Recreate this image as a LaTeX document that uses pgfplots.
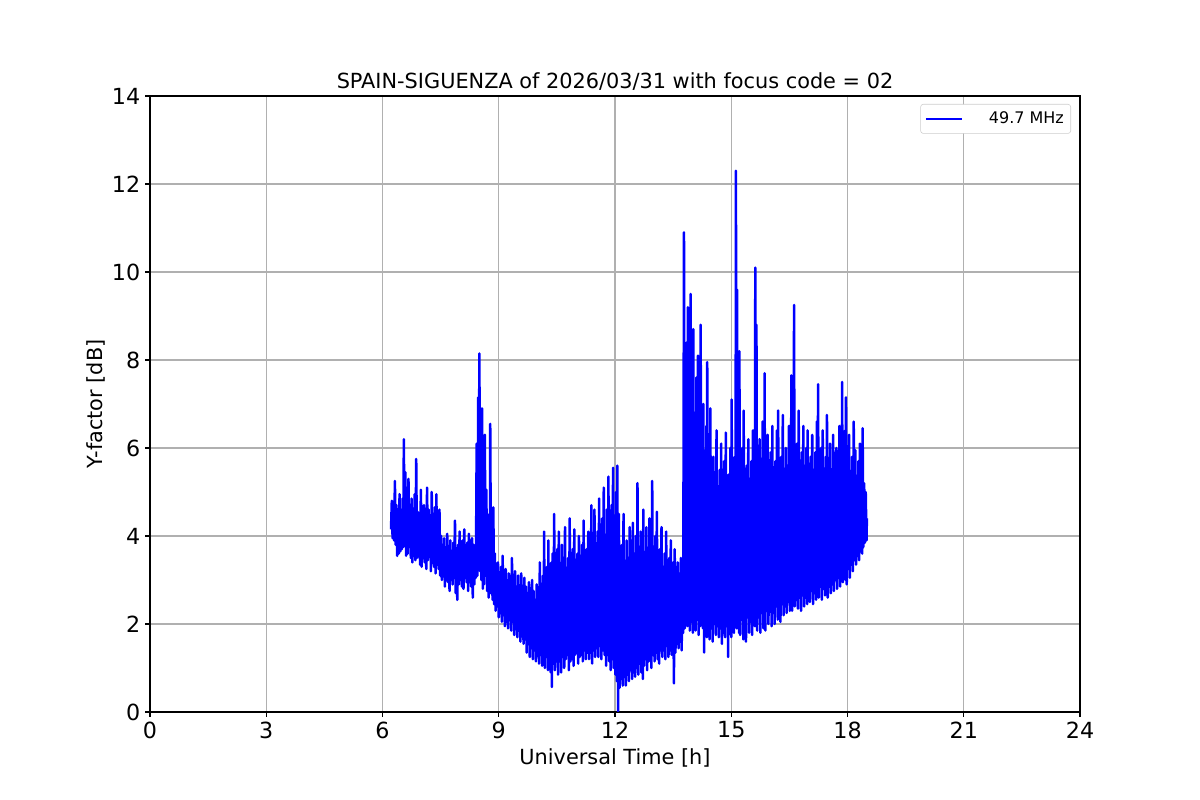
\documentclass[border=0pt]{standalone}
\usepackage{fontspec}
\setmainfont{DejaVu Sans}
\usepackage{pgfplots}
\usepackage{pgfplotstable}
\pgfplotsset{compat=1.18}

% 49.7 MHz Y-factor readings, Universal Time [h] vs dB
\pgfplotstableread[row sep=\\]{
t y \\
6.22 4.15 \\ 6.24 4.80 \\ 6.26 3.95 \\ 6.28 4.60 \\ 6.30 3.90 \\ 6.32 5.25 \\
6.34 3.80 \\ 6.36 4.70 \\ 6.38 3.55 \\ 6.40 4.50 \\ 6.42 3.60 \\ 6.44 4.95 \\
6.46 3.65 \\ 6.48 4.40 \\ 6.50 3.70 \\ 6.52 4.85 \\ 6.54 3.75 \\ 6.55 6.20 \\
6.57 3.80 \\ 6.59 5.45 \\ 6.61 3.55 \\ 6.63 4.70 \\ 6.65 3.60 \\ 6.67 5.30 \\
6.69 3.75 \\ 6.71 4.50 \\ 6.73 3.50 \\ 6.75 4.85 \\ 6.77 3.40 \\ 6.79 4.60 \\
6.81 3.55 \\ 6.83 4.95 \\ 6.85 3.45 \\ 6.87 5.75 \\ 6.89 3.50 \\ 6.91 4.55 \\
6.93 3.60 \\ 6.95 4.40 \\ 6.97 3.35 \\ 6.99 5.05 \\ 7.01 3.30 \\ 7.03 4.50 \\
7.05 3.50 \\ 7.07 4.70 \\ 7.09 3.40 \\ 7.11 4.35 \\ 7.13 3.25 \\ 7.15 5.10 \\
7.17 3.45 \\ 7.19 4.60 \\ 7.21 3.55 \\ 7.23 4.40 \\ 7.25 3.20 \\ 7.27 5.00 \\
7.29 3.40 \\ 7.31 4.50 \\ 7.33 3.30 \\ 7.35 4.65 \\ 7.37 3.15 \\ 7.39 4.95 \\
7.41 3.35 \\ 7.43 4.30 \\ 7.45 3.25 \\ 7.47 4.60 \\ 7.49 3.10 \\ 7.51 4.00 \\
7.53 3.00 \\ 7.55 3.80 \\ 7.57 3.10 \\ 7.59 3.95 \\ 7.61 2.85 \\ 7.63 3.70 \\
7.65 3.05 \\ 7.67 4.05 \\ 7.69 2.95 \\ 7.71 3.65 \\ 7.73 2.75 \\ 7.75 3.90 \\
7.77 3.00 \\ 7.79 3.60 \\ 7.81 2.90 \\ 7.83 3.85 \\ 7.85 3.05 \\ 7.87 4.35 \\
7.89 2.70 \\ 7.91 3.70 \\ 7.93 2.55 \\ 7.95 3.80 \\ 7.97 2.90 \\ 7.99 4.10 \\
8.01 3.00 \\ 8.03 3.65 \\ 8.05 2.85 \\ 8.07 3.90 \\ 8.09 2.80 \\ 8.11 4.15 \\
8.13 3.05 \\ 8.15 3.70 \\ 8.17 2.95 \\ 8.19 3.85 \\ 8.21 2.75 \\ 8.23 4.05 \\
8.25 2.95 \\ 8.27 3.75 \\ 8.29 2.85 \\ 8.31 3.95 \\ 8.33 2.60 \\ 8.35 3.80 \\
8.37 2.90 \\ 8.39 3.70 \\
8.41 3.05 \\ 8.43 6.10 \\ 8.45 3.10 \\ 8.47 7.15 \\ 8.48 3.40 \\ 8.50 8.15 \\
8.52 3.20 \\ 8.54 5.80 \\ 8.55 3.00 \\ 8.57 6.90 \\ 8.59 2.80 \\ 8.61 5.20 \\
8.62 2.90 \\ 8.64 6.30 \\ 8.66 3.10 \\ 8.68 5.05 \\ 8.70 2.75 \\ 8.72 4.20 \\
8.74 2.60 \\ 8.76 4.50 \\ 8.77 2.70 \\ 8.78 6.55 \\ 8.80 2.70 \\ 8.82 3.90 \\
8.84 2.55 \\ 8.86 4.65 \\ 8.88 2.45 \\ 8.90 3.60 \\
8.92 2.30 \\ 8.94 3.20 \\ 8.96 2.40 \\ 8.98 3.40 \\ 9.00 2.15 \\ 9.02 3.10 \\
9.04 2.35 \\ 9.06 3.30 \\ 9.08 2.05 \\ 9.10 3.55 \\ 9.12 2.20 \\ 9.14 3.05 \\
9.16 1.95 \\ 9.18 3.25 \\ 9.20 2.15 \\ 9.22 2.95 \\ 9.24 1.90 \\ 9.26 3.15 \\
9.28 2.10 \\ 9.30 2.90 \\ 9.32 1.85 \\ 9.34 3.50 \\ 9.36 2.05 \\ 9.38 3.00 \\
9.40 1.75 \\ 9.42 3.20 \\ 9.44 1.95 \\ 9.46 2.85 \\ 9.48 1.70 \\ 9.50 3.10 \\
9.52 1.85 \\ 9.54 2.80 \\ 9.56 1.60 \\ 9.58 3.15 \\ 9.60 1.80 \\ 9.62 2.75 \\
9.64 1.55 \\ 9.66 3.05 \\ 9.68 1.65 \\ 9.70 2.85 \\
9.72 1.35 \\ 9.74 2.70 \\ 9.76 1.55 \\ 9.78 2.95 \\ 9.80 1.25 \\ 9.82 2.60 \\
9.84 1.45 \\ 9.86 3.00 \\ 9.88 1.20 \\ 9.90 2.75 \\ 9.92 1.40 \\ 9.94 2.55 \\
9.96 1.15 \\ 9.98 2.90 \\ 10.00 1.35 \\ 10.02 2.70 \\ 10.04 1.10 \\ 10.06 3.40 \\
10.08 1.30 \\ 10.10 2.80 \\ 10.12 1.05 \\ 10.14 3.10 \\ 10.16 1.35 \\ 10.17 4.10 \\
10.19 1.00 \\ 10.21 3.00 \\ 10.23 1.25 \\ 10.25 3.30 \\ 10.27 0.95 \\ 10.28 3.90 \\
10.30 1.15 \\ 10.32 3.20 \\
10.34 0.90 \\ 10.36 3.40 \\ 10.37 0.57 \\ 10.39 3.60 \\ 10.41 1.10 \\ 10.43 4.50 \\
10.45 0.95 \\ 10.47 3.30 \\ 10.49 1.20 \\ 10.51 3.70 \\ 10.53 0.85 \\ 10.55 4.10 \\
10.57 1.15 \\ 10.59 3.20 \\ 10.61 0.90 \\ 10.63 3.80 \\ 10.65 1.25 \\ 10.67 3.40 \\
10.69 1.00 \\ 10.71 4.20 \\ 10.73 1.20 \\ 10.75 3.10 \\ 10.77 1.30 \\ 10.79 3.50 \\
10.81 0.95 \\ 10.83 4.40 \\ 10.85 1.15 \\ 10.87 3.30 \\ 10.89 1.20 \\ 10.91 3.70 \\
10.93 1.05 \\ 10.95 4.15 \\ 10.97 1.30 \\ 10.99 3.20 \\ 11.01 1.35 \\ 11.03 3.60 \\
11.05 1.10 \\ 11.07 4.00 \\ 11.09 1.25 \\ 11.11 3.30 \\ 11.13 1.30 \\ 11.15 3.80 \\
11.17 1.15 \\ 11.19 4.35 \\ 11.21 1.40 \\ 11.23 3.40 \\ 11.25 1.20 \\ 11.27 3.70 \\
11.29 1.35 \\ 11.31 4.10 \\ 11.33 1.20 \\ 11.35 3.50 \\ 11.37 1.35 \\ 11.39 4.70 \\
11.41 1.10 \\ 11.43 3.60 \\ 11.45 1.40 \\ 11.47 4.60 \\ 11.49 1.25 \\ 11.51 3.80 \\
11.53 1.45 \\ 11.55 4.10 \\ 11.57 1.25 \\ 11.59 4.85 \\ 11.61 1.50 \\ 11.63 3.90 \\
11.65 1.20 \\ 11.67 4.40 \\ 11.69 1.40 \\ 11.71 5.10 \\ 11.73 1.30 \\ 11.75 4.00 \\
11.77 1.05 \\ 11.79 4.60 \\ 11.81 1.30 \\ 11.83 5.35 \\ 11.85 1.15 \\ 11.87 4.20 \\
11.89 0.95 \\ 11.91 4.70 \\ 11.93 1.20 \\ 11.95 5.55 \\ 11.97 1.00 \\ 11.99 4.30 \\
12.01 0.85 \\ 12.03 5.00 \\ 12.05 0.70 \\ 12.06 5.60 \\ 12.08 0.02 \\
12.10 4.50 \\ 12.12 0.55 \\ 12.14 3.40 \\ 12.16 0.75 \\ 12.18 3.80 \\ 12.20 0.60 \\
12.22 4.50 \\ 12.24 0.80 \\ 12.26 3.20 \\ 12.28 0.60 \\ 12.30 3.90 \\ 12.32 0.85 \\
12.34 3.50 \\ 12.36 0.70 \\ 12.38 4.20 \\ 12.40 0.95 \\ 12.42 3.30 \\ 12.44 0.75 \\
12.46 4.30 \\ 12.48 0.90 \\ 12.50 3.60 \\ 12.52 0.80 \\ 12.54 4.00 \\ 12.56 1.00 \\
12.58 5.20 \\ 12.60 0.85 \\
12.62 3.70 \\ 12.64 1.10 \\ 12.66 4.10 \\ 12.68 0.90 \\ 12.70 3.40 \\ 12.72 0.75 \\
12.73 4.60 \\ 12.75 1.05 \\ 12.77 3.60 \\ 12.79 1.20 \\ 12.81 4.20 \\ 12.83 0.95 \\
12.85 3.50 \\ 12.87 1.15 \\ 12.89 4.40 \\ 12.91 1.25 \\ 12.93 3.30 \\ 12.94 1.00 \\
12.96 5.25 \\ 12.98 1.30 \\ 13.00 3.70 \\ 13.02 1.15 \\ 13.04 4.00 \\ 13.06 1.35 \\
13.08 4.55 \\ 13.10 1.20 \\ 13.12 3.40 \\ 13.14 1.10 \\ 13.16 3.70 \\ 13.18 1.45 \\
13.20 4.20 \\ 13.22 1.25 \\ 13.24 3.30 \\ 13.26 1.40 \\ 13.28 3.60 \\ 13.30 1.20 \\
13.32 4.10 \\ 13.34 1.50 \\ 13.36 3.20 \\ 13.38 1.25 \\ 13.40 3.50 \\ 13.42 1.40 \\
13.44 3.90 \\ 13.46 1.30 \\ 13.48 3.10 \\ 13.50 3.40 \\ 13.52 0.65 \\ 13.54 3.70 \\
13.56 1.35 \\ 13.58 3.10 \\ 13.60 1.55 \\ 13.62 3.40 \\ 13.64 1.45 \\ 13.66 3.00 \\
13.68 1.60 \\ 13.70 3.50 \\ 13.72 1.40 \\ 13.74 3.20 \\ 13.76 1.80 \\
13.78 10.90 \\ 13.80 1.90 \\ 13.81 7.50 \\ 13.83 2.00 \\ 13.85 8.40 \\ 13.87 1.95 \\
13.88 9.20 \\ 13.90 2.10 \\ 13.92 7.80 \\ 13.93 1.85 \\ 13.95 9.50 \\ 13.97 2.05 \\
13.99 7.20 \\ 14.01 1.80 \\ 14.02 8.70 \\ 14.04 2.00 \\ 14.06 6.80 \\ 14.08 1.85 \\
14.10 7.60 \\ 14.12 2.10 \\ 14.14 8.10 \\ 14.16 1.75 \\ 14.18 6.50 \\ 14.20 1.95 \\
14.21 8.80 \\ 14.23 2.00 \\ 14.25 6.20 \\ 14.27 1.90 \\ 14.28 7.00 \\ 14.30 1.35 \\
14.32 5.40 \\ 14.34 1.80 \\ 14.36 6.50 \\ 14.37 1.70 \\ 14.38 7.95 \\ 14.40 1.85 \\
14.42 5.20 \\ 14.44 1.65 \\ 14.46 6.90 \\ 14.48 1.90 \\ 14.50 5.00 \\ 14.52 1.60 \\
14.54 5.80 \\ 14.56 2.00 \\ 14.58 4.80 \\ 14.60 1.75 \\ 14.62 6.40 \\ 14.64 1.95 \\
14.66 5.10 \\ 14.68 1.70 \\ 14.70 5.50 \\ 14.72 1.90 \\ 14.74 6.10 \\ 14.76 1.55 \\
14.78 4.90 \\ 14.80 1.80 \\ 14.82 5.70 \\ 14.84 1.70 \\ 14.86 6.35 \\ 14.88 1.95 \\
14.90 5.00 \\ 14.92 1.25 \\ 14.94 5.40 \\ 14.96 1.85 \\ 14.98 6.00 \\ 15.00 1.70 \\
15.01 7.10 \\ 15.03 2.00 \\ 15.05 5.20 \\
15.07 1.80 \\ 15.09 5.80 \\ 15.11 2.10 \\ 15.12 12.30 \\ 15.14 1.90 \\ 15.15 9.60 \\
15.17 2.05 \\ 15.19 5.50 \\ 15.20 1.80 \\ 15.21 8.20 \\ 15.23 1.75 \\ 15.25 5.20 \\
15.27 2.10 \\ 15.29 6.00 \\ 15.31 1.65 \\ 15.32 6.85 \\ 15.34 2.00 \\ 15.36 5.10 \\
15.38 1.60 \\ 15.40 5.60 \\ 15.42 2.15 \\ 15.44 6.20 \\ 15.46 1.80 \\ 15.48 5.30 \\
15.50 2.05 \\ 15.52 5.70 \\ 15.54 1.75 \\ 15.56 6.40 \\ 15.58 2.20 \\ 15.60 5.40 \\
15.61 1.95 \\ 15.62 10.10 \\ 15.64 2.00 \\ 15.65 8.80 \\ 15.67 1.85 \\ 15.69 5.50 \\
15.71 2.15 \\ 15.73 6.20 \\ 15.75 1.80 \\ 15.77 5.20 \\ 15.79 2.25 \\ 15.81 6.60 \\
15.83 1.90 \\ 15.84 5.80 \\ 15.85 2.10 \\ 15.86 7.70 \\ 15.88 1.85 \\ 15.90 5.30 \\
15.92 2.30 \\ 15.94 6.30 \\ 15.96 2.00 \\ 15.98 5.50 \\ 16.00 2.35 \\ 16.02 5.90 \\
16.04 1.95 \\ 16.06 6.50 \\ 16.08 2.25 \\ 16.10 5.20 \\ 16.12 2.00 \\ 16.14 5.70 \\
16.16 2.40 \\ 16.18 6.40 \\ 16.20 2.10 \\ 16.21 6.85 \\ 16.23 2.30 \\ 16.25 5.40 \\
16.27 2.05 \\ 16.29 5.80 \\ 16.31 2.45 \\ 16.33 6.75 \\ 16.35 2.20 \\ 16.37 5.50 \\
16.39 2.40 \\ 16.41 6.00 \\ 16.43 2.25 \\ 16.45 5.60 \\
16.47 2.50 \\ 16.49 6.50 \\ 16.51 2.30 \\ 16.53 5.90 \\ 16.54 2.45 \\ 16.55 7.65 \\
16.57 2.30 \\ 16.59 5.60 \\ 16.61 2.50 \\ 16.62 9.25 \\ 16.64 2.40 \\ 16.66 5.80 \\
16.68 2.55 \\ 16.70 6.10 \\ 16.72 2.35 \\ 16.74 6.85 \\ 16.76 2.60 \\ 16.78 5.50 \\
16.80 2.30 \\ 16.82 5.90 \\ 16.84 2.65 \\ 16.86 6.50 \\ 16.88 2.40 \\ 16.90 5.40 \\
16.92 2.60 \\ 16.94 6.00 \\ 16.96 2.45 \\ 16.97 6.40 \\ 16.99 2.70 \\ 17.01 5.60 \\
17.03 2.50 \\ 17.05 5.80 \\ 17.07 2.75 \\ 17.09 6.30 \\ 17.11 2.45 \\ 17.13 5.50 \\
17.15 2.70 \\ 17.17 5.90 \\ 17.19 2.55 \\ 17.21 6.60 \\ 17.23 2.80 \\ 17.24 7.45 \\
17.26 2.60 \\ 17.28 5.70 \\ 17.30 2.85 \\ 17.32 6.00 \\ 17.34 2.55 \\ 17.36 6.40 \\
17.38 2.80 \\ 17.40 5.50 \\ 17.42 2.65 \\ 17.44 5.80 \\ 17.46 2.90 \\ 17.47 6.75 \\
17.49 2.60 \\ 17.51 5.60 \\ 17.53 2.85 \\ 17.55 6.10 \\ 17.57 2.70 \\ 17.59 5.40 \\
17.61 2.90 \\ 17.63 6.30 \\ 17.65 2.75 \\ 17.67 5.60 \\ 17.69 3.00 \\ 17.71 6.00 \\
17.73 2.80 \\ 17.75 5.50 \\ 17.77 3.05 \\ 17.79 6.50 \\ 17.81 2.85 \\ 17.83 5.80 \\
17.85 3.10 \\ 17.86 7.50 \\ 17.88 2.95 \\ 17.90 5.70 \\ 17.92 3.15 \\ 17.94 6.40 \\
17.95 3.00 \\ 17.96 7.15 \\ 17.98 2.90 \\ 18.00 5.60 \\ 18.02 3.25 \\ 18.04 6.30 \\
18.06 3.05 \\ 18.08 5.40 \\ 18.10 3.35 \\ 18.12 5.80 \\ 18.14 3.20 \\ 18.16 6.60 \\
18.18 3.45 \\ 18.20 5.95 \\ 18.22 3.35 \\ 18.24 5.30 \\ 18.26 3.55 \\ 18.28 5.70 \\
18.30 3.45 \\ 18.32 6.10 \\ 18.34 3.65 \\ 18.36 5.40 \\ 18.38 3.60 \\ 18.39 6.45 \\
18.41 3.75 \\ 18.43 5.20 \\ 18.45 3.85 \\ 18.47 5.00 \\ 18.49 3.90 \\ 18.50 4.40 \\
}\yfactor

\begin{document}
\begin{tikzpicture}
\path[use as bounding box] (0,0) rectangle (12in,8in);
\begin{axis}[
    at={(1.5in,0.88in)}, anchor=south west,
    scale only axis, width=9.3in, height=6.16in,
    xmin=0, xmax=24, ymin=0, ymax=14,
    xtick={0,3,...,24}, ytick={0,2,...,14},
    grid=major,
    grid style={color=black!31, line width=0.8bp},
    axis line style={line width=0.8bp},
    tick pos=left, tick align=outside,
    tick style={black, line width=0.8bp},
    major tick length=3.5bp,
    tick label style={font=\fontsize{16bp}{19bp}\selectfont},
    /pgf/number format/assume math mode=true,
    title={SPAIN-SIGUENZA of 2026/03/31 with focus code = 02},
    title style={font=\fontsize{15bp}{18bp}\selectfont,
        at={(axis description cs:0.5,1)}, anchor=base, yshift=-0.013in},
    xlabel={Universal Time [h]},
    ylabel={Y-factor [dB]},
    label style={font=\fontsize{15bp}{18bp}\selectfont},
    xlabel style={at={(axis description cs:0.5,0)}, anchor=base, yshift=-0.53in},
    ylabel style={at={(axis description cs:-0.0516,0.5)}, anchor=base},
    legend style={at={(1,1)}, anchor=north east, xshift=-0.09in, yshift=-0.08in,
        draw=black!20, rounded corners=2bp, inner ysep=3.5bp,
        font=\fontsize{11.5bp}{14bp}\selectfont, cells={anchor=west}},
    legend image code/.code={\draw[#1] (0in,0in) -- (0.36in,0in);},
]
\addplot[blue, line width=1.8bp, line join=round] table[x=t, y=y] {\yfactor};
\addlegendentry{\hspace{0.23in}49.7 MHz}
\end{axis}
\end{tikzpicture}
\end{document}
